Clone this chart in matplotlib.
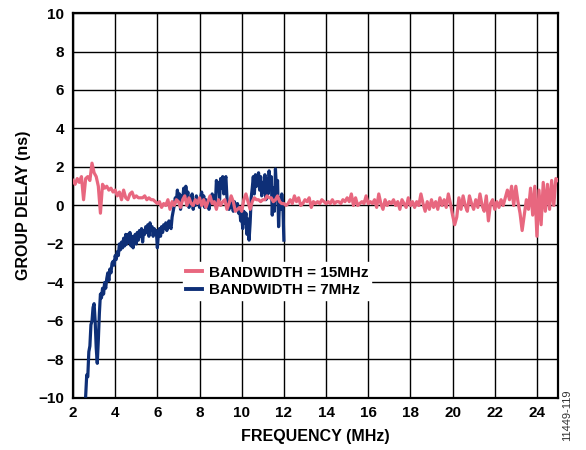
import numpy as np
import matplotlib
matplotlib.use("Agg")
import matplotlib.pyplot as plt

plt.rcParams['font.family'] = ['Liberation Sans', 'DejaVu Sans']

# BANDWIDTH = 15MHz, sampled every 0.1 MHz from 2.0 to 25.0
bw15_start, bw15_step = 2.0, 0.1
bw15_delay = [
    1.3, 1.1, 1.4, 1.2, 1.5, 0.3, 1.4, 1.5, 1.3, 2.2,          # 2.x
    1.7, 1.5, 1.0, -0.4, 1.1, 0.9, 1.0, 0.8, 0.9, 0.7,         # 3.x
    0.8, 0.5, 0.7, 0.3, 0.8, 0.4, 0.3, 0.6, 0.7, 0.4,          # 4.x
    0.5, 0.4, 0.4, 0.4, 0.5, 0.3, 0.4, 0.3, 0.3, 0.2,          # 5.x
    0.1, 0.2, -0.1, 0.1, 0.0, 0.3, -0.2, 0.2, 0.0, 0.3,        # 6.x
    0.2, -0.1, 0.3, 0.5, 0.0, 0.4, 0.1, 0.0, 0.3, 0.1,         # 7.x
    0.4, 0.0, 0.3, -0.1, 0.2, 0.5, 0.1, 0.2, -0.2, 0.3,        # 8.x
    0.0, 0.2, 0.3, -0.2, 0.1, 0.5, 0.2, -0.3, -0.2, -0.1,      # 9.x
    -0.3, 0.3, 0.6, 0.2, -0.2, 0.2, 0.4, 0.3, 0.3, 0.2,        # 10.x
    0.3, 0.3, 0.5, 0.4, 0.4, 0.2, 0.3, 0.5, 0.2, 0.1,          # 11.x
    0.1, 0.0, 0.1, 0.3, 0.1, 0.5, 0.2, 0.4, 0.0, 0.1,          # 12.x
    0.3, 0.2, 0.4, -0.1, 0.2, 0.1, 0.2, 0.1, 0.3, 0.2,         # 13.x
    0.1, 0.2, 0.1, 0.3, 0.1, 0.2, 0.2, 0.1, 0.3, 0.2,          # 14.x
    0.4, 0.2, 0.6, 0.0, 0.4, 0.0, 0.1, 0.2, 0.1, 0.5,          # 15.x
    0.1, 0.2, 0.1, 0.3, -0.1, 0.6, 0.1, -0.2, 0.3, 0.0,        # 16.x
    0.2, 0.1, 0.3, 0.0, 0.2, -0.2, 0.3, 0.1, -0.1, 0.4,        # 17.x
    0.0, 0.2, -0.1, 0.2, 0.0, 0.6, 0.1, -0.3, 0.2, -0.2,       # 18.x
    0.3, -0.1, 0.2, -0.2, 0.4, 0.0, 0.3, -0.1, 0.6, 0.1,       # 19.x
    -0.5, -1.0, -0.6, 0.4, -0.2, 0.5, 0.0, -0.3, 0.5, 0.1,     # 20.x
    -0.2, 0.3, -0.1, 0.6, 0.0, -0.3, 0.5, -0.8, 0.1, 0.3,      # 21.x
    -0.2, 0.2, -0.1, 0.3, 0.0, 0.4, 0.8, 0.3, 1.0, 0.0,        # 22.x
    1.0, 0.2, -0.4, -1.3, -0.5, 0.3, -0.2, 0.9, -0.5, 1.0,     # 23.x
    -1.6, 0.8, -1.0, 1.2, -0.3, 1.1, -0.2, 1.3, 0.0, 1.4,      # 24.x
    1.3,                                                       # 25.0
]

# BANDWIDTH = 7MHz, sampled every 0.05 MHz from 2.60 to 12.00
bw7_start, bw7_step = 2.6, 0.05
bw7_delay = [
    -9.9, -8.8, -8.9, -7.6, -7.3, -6.2, -6.0, -5.3,                              # 2.60-2.95
    -5.1, -6.0, -7.4, -8.2, -7.0, -5.6, -4.6, -4.8, -4.3, -4.6,
    -4.0, -4.3, -3.8, -3.5, -3.9, -3.3, -3.5, -3.0, -2.9, -3.1,                  # 3.x
    -2.6, -2.8, -2.4, -2.6, -2.0, -2.3, -1.9, -2.2, -1.7, -2.1,
    -1.5, -2.0, -1.5, -1.9, -1.4, -2.1, -1.6, -2.2, -1.7, -1.5,                  # 4.x
    -2.0, -1.4, -1.8, -1.3, -1.6, -1.2, -1.9, -1.3, -1.5, -1.1,
    -1.4, -1.0, -1.6, -0.9, -1.3, -1.1, -1.6, -1.2, -1.4, -1.3,                  # 5.x
    -2.2, -1.5, -1.2, -1.6, -1.1, -1.4, -1.0, -1.2, -0.9, -1.3,
    -1.0, -0.8, -1.1, -1.2, -0.6, -0.3, 0.0, 0.4, 0.2, 0.8,                      # 6.x
    0.3, 0.6, -0.2, 0.5, 0.3, 0.9, 0.4, 1.0, 0.5, 0.7,
    -0.1, 0.4, 0.1, 0.6, -0.2, 0.2, 0.0, 0.5, 0.1, 0.3,                          # 7.x
    -0.1, 0.4, 0.7, 0.2, 0.5, -0.1, 0.3, 0.0, 0.2, -0.2,
    0.4, 0.1, 0.6, 0.2, 0.5, 0.0, 1.3, 0.8, 1.2, 0.3,                            # 8.x
    1.4, 0.9, 1.5, 0.6, 1.3, 1.5, 0.4, 0.0, -0.2, 0.2,
    -0.1, 0.1, -0.3, 0.2, 0.0, -0.2, 0.1, -0.4, -0.1, -0.8,                      # 9.x
    -0.5, -1.2, -0.3, -0.9, -0.4, -1.5, -0.7, -1.8, -0.9, 0.4,
    0.9, 1.5, 0.6, 1.6, 1.0, 1.4, 1.7, 0.8, 1.5, 0.5,                            # 10.x
    1.2, 0.7, 1.6, 0.3, 1.4, 0.6, 1.8, 0.9, 1.5, -0.5,
    0.9, -0.3, 1.9, 0.8, 1.3, -1.1, 0.4, -0.2, 0.6, 0.1,                         # 11.x
    -1.8,                                                                        # 12.00
]

x_ticks = [2, 4, 6, 8, 10, 12, 14, 16, 18, 20, 22, 24]
y_ticks = [-10, -8, -6, -4, -2, 0, 2, 4, 6, 8, 10]

pink = '#E8677F'
navy = '#0E2F77'

bw15_x = bw15_start + bw15_step * np.arange(len(bw15_delay))
bw7_x = bw7_start + bw7_step * np.arange(len(bw7_delay))

fig = plt.figure(figsize=(5.86, 4.5), dpi=100)
ax = fig.add_axes([0.1246, 0.1156, 0.8276, 0.8555])

l7, = ax.plot(bw7_x, bw7_delay, color=navy, lw=2.3, solid_joinstyle='round', zorder=3)
l15, = ax.plot(bw15_x, bw15_delay, color=pink, lw=2.3, solid_joinstyle='round', zorder=4)

ax.set_xlim(2, 25)
ax.set_ylim(-10, 10)
ax.set_xticks(x_ticks)
ax.set_yticks(y_ticks)
ax.tick_params(axis='y', length=0, labelsize=11, pad=6.5)
ax.tick_params(axis='x', length=0, labelsize=11, pad=5.5)
for lab in ax.get_xticklabels() + ax.get_yticklabels():
    lab.set_fontweight('bold')
ax.grid(True, color='black', lw=1.0)
ax.set_axisbelow(True)
for s in ax.spines.values():
    s.set_linewidth(1.6)
    s.set_color('black')

ax.set_xlabel('FREQUENCY (MHz)', fontsize=11.5, fontweight='bold', labelpad=7)
ax.set_ylabel('GROUP DELAY (ns)', fontsize=11.5, fontweight='bold', labelpad=5)

leg = ax.legend([l15, l7], ['BANDWIDTH = 15MHz', 'BANDWIDTH = 7MHz'],
                loc='upper left', bbox_to_anchor=(0.226, 0.352),
                frameon=True, fancybox=False, framealpha=1.0,
                edgecolor='white', facecolor='white',
                prop={'weight': 'bold', 'size': 11},
                handlelength=1.1, handletextpad=0.4, borderpad=0.2,
                labelspacing=0.25, borderaxespad=0.0)
leg.set_zorder(5)
for h in leg.get_lines():
    h.set_linewidth(2.8)

fig.text(0.967, 0.078, '11449-119', rotation=90, fontsize=8, color='#333333',
         ha='center', va='center')

fig.savefig('out.png', dpi=100)
